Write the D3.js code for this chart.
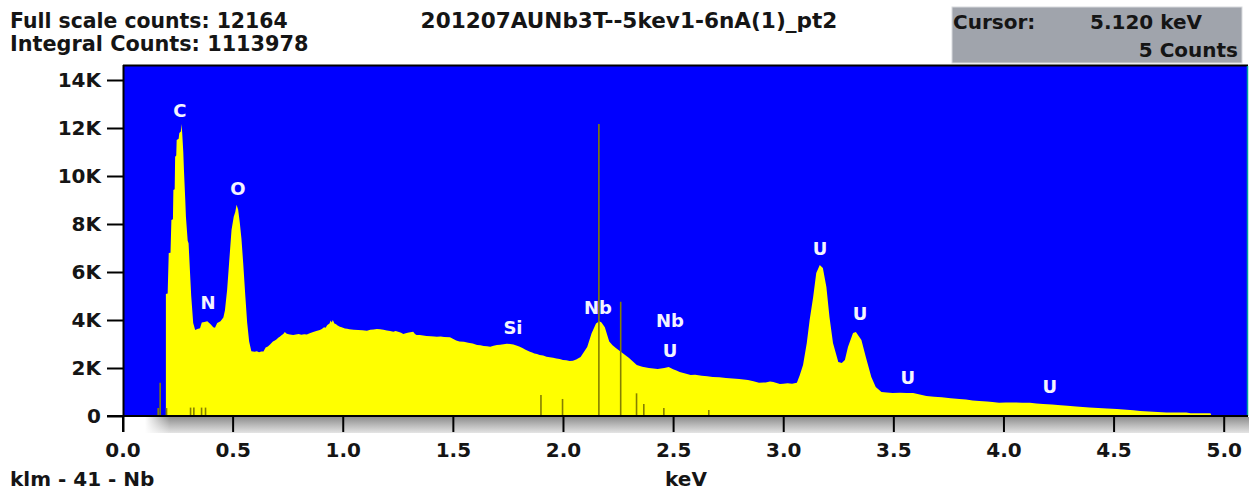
<!DOCTYPE html>
<html>
<head>
<meta charset="utf-8">
<script src="https://cdn.jsdelivr.net/npm/d3@7"></script>
<style>
  html, body { margin: 0; padding: 0; background: #fff; }
  svg { display: block; }
  text { font-family: "DejaVu Sans", Verdana, sans-serif; font-weight: bold; }
</style>
</head>
<body>
<svg id="chart" width="1249" height="491"></svg>
<script>
// spectrum: [keV, counts]
const spectrum = [
  [0.197, 5080], [0.205, 5100], [0.210, 6790], [0.218, 6800], [0.222, 8170], [0.229, 8200],
  [0.231, 9420], [0.237, 9450], [0.239, 10800], [0.244, 10850], [0.246, 11500], [0.255, 11550],
  [0.258, 11790], [0.265, 11850], [0.268, 12164], [0.271, 11800], [0.276, 11000], [0.279, 10250],
  [0.285, 9000], [0.288, 8300], [0.296, 7300], [0.300, 7200], [0.306, 6080], [0.312, 5000],
  [0.316, 4500], [0.321, 3870], [0.330, 3580], [0.340, 3620], [0.352, 3660], [0.360, 3900],
  [0.372, 3920], [0.385, 3950], [0.400, 3820], [0.412, 3700], [0.420, 3680], [0.430, 3880],
  [0.445, 3950], [0.458, 4100], [0.465, 4400], [0.475, 5250], [0.484, 6370], [0.495, 7750],
  [0.505, 8300], [0.512, 8500], [0.518, 8800], [0.525, 8600], [0.532, 8100], [0.540, 7400],
  [0.548, 6370], [0.558, 4960], [0.566, 3900], [0.575, 3100], [0.585, 2700], [0.600, 2680],
  [0.610, 2700], [0.620, 2660], [0.630, 2690], [0.640, 2690], [0.650, 2850], [0.660, 2900],
  [0.670, 2980], [0.683, 3100], [0.692, 3150], [0.700, 3200], [0.707, 3260], [0.714, 3300],
  [0.722, 3360], [0.730, 3420], [0.737, 3500], [0.744, 3440], [0.750, 3420], [0.760, 3400],
  [0.775, 3375], [0.787, 3400], [0.800, 3420], [0.812, 3390], [0.825, 3410], [0.837, 3400],
  [0.850, 3450], [0.866, 3500], [0.880, 3540], [0.896, 3580], [0.905, 3620], [0.915, 3700],
  [0.922, 3680], [0.930, 3790], [0.940, 3850], [0.945, 3980], [0.950, 3900], [0.955, 4000],
  [0.962, 3850], [0.970, 3820], [0.975, 3780], [0.987, 3720], [0.995, 3700], [1.010, 3650],
  [1.020, 3640], [1.030, 3610], [1.050, 3590], [1.070, 3580], [1.090, 3570], [1.110, 3555],
  [1.125, 3590], [1.140, 3600], [1.155, 3620], [1.170, 3610], [1.185, 3590], [1.200, 3560],
  [1.215, 3540], [1.230, 3510], [1.240, 3540], [1.255, 3500], [1.265, 3470], [1.275, 3415],
  [1.290, 3460], [1.300, 3480], [1.320, 3510], [1.328, 3420], [1.335, 3375], [1.350, 3380],
  [1.365, 3350], [1.380, 3330], [1.400, 3320], [1.415, 3310], [1.427, 3300], [1.445, 3310],
  [1.460, 3290], [1.487, 3280], [1.500, 3220], [1.515, 3150], [1.530, 3100], [1.550, 3090],
  [1.570, 3050], [1.590, 3020], [1.610, 2960], [1.625, 2950], [1.640, 2920], [1.655, 2910],
  [1.670, 2890], [1.685, 2930], [1.700, 2960], [1.715, 2970], [1.730, 2990], [1.745, 3010],
  [1.760, 3000], [1.775, 2980], [1.785, 2950], [1.795, 2920], [1.804, 2890], [1.818, 2820],
  [1.830, 2760], [1.850, 2680], [1.860, 2650], [1.870, 2600], [1.882, 2580], [1.894, 2540],
  [1.910, 2520], [1.925, 2470], [1.940, 2445], [1.955, 2430], [1.970, 2400], [1.985, 2380],
  [2.000, 2330], [2.015, 2320], [2.030, 2290], [2.045, 2300], [2.060, 2350], [2.080, 2460],
  [2.110, 2875], [2.130, 3450], [2.150, 3850], [2.165, 3950], [2.175, 3900], [2.190, 3700],
  [2.210, 3100], [2.225, 2950], [2.240, 2830], [2.270, 2625], [2.300, 2420], [2.335, 2125],
  [2.360, 2050], [2.390, 2000], [2.430, 1960], [2.460, 2000], [2.480, 2040], [2.500, 1950],
  [2.515, 1900], [2.530, 1830], [2.555, 1770], [2.580, 1710], [2.600, 1720], [2.630, 1680],
  [2.655, 1660], [2.680, 1625], [2.710, 1610], [2.740, 1580], [2.770, 1560], [2.800, 1540],
  [2.820, 1520], [2.840, 1500], [2.865, 1450], [2.890, 1390], [2.920, 1400], [2.940, 1440],
  [2.955, 1420], [2.970, 1370], [2.985, 1330], [3.000, 1340], [3.020, 1360], [3.040, 1340],
  [3.062, 1390], [3.075, 1700], [3.090, 2125], [3.107, 3040], [3.120, 4000], [3.136, 4960],
  [3.150, 5960], [3.166, 6290], [3.180, 6170], [3.196, 5375], [3.210, 4125], [3.226, 3040],
  [3.250, 2250], [3.266, 2210], [3.280, 2330], [3.294, 2875], [3.317, 3460], [3.330, 3500],
  [3.355, 3170], [3.375, 2460], [3.400, 1625], [3.420, 1210], [3.446, 1000], [3.470, 980],
  [3.497, 960], [3.530, 965], [3.560, 955], [3.590, 960], [3.620, 900], [3.650, 830],
  [3.685, 800], [3.720, 780], [3.760, 740], [3.800, 710], [3.830, 690], [3.860, 650],
  [3.890, 630], [3.925, 600], [3.950, 580], [3.980, 555], [4.010, 565], [4.050, 560],
  [4.085, 555], [4.120, 555], [4.150, 520], [4.180, 500], [4.220, 480], [4.260, 450],
  [4.290, 430], [4.330, 400], [4.360, 380], [4.390, 350], [4.430, 330], [4.470, 310],
  [4.515, 290], [4.560, 260], [4.590, 240], [4.620, 210], [4.660, 190], [4.700, 170],
  [4.740, 150], [4.790, 150], [4.830, 150], [4.850, 110], [4.900, 110], [4.940, 110],
  [4.945, 0]
];

// klm marker lines for Nb
const markerKeV = [0.162, 0.171, 0.200, 0.309, 0.324, 0.359, 0.377, 1.900, 1.998, 2.163, 2.262, 2.334, 2.367, 2.458, 2.662];
const markerCounts = [330, 1390, 330, 350, 350, 350, 350, 870, 710, 12170, 4760, 945, 500, 330, 250];

// peak labels: text, keV, height in counts
const peakNames = ["C", "O", "N", "Si", "Nb", "Nb", "U", "U", "U", "U", "U"];
const peakKeV = [0.261, 0.524, 0.388, 1.773, 2.159, 2.486, 2.486, 3.167, 3.349, 3.566, 4.211];
const peakAt = [12750, 9500, 4710, 3670, 4540, 4000, 2750, 7000, 4290, 1625, 1210];

const xTicks = [0, 0.5, 1, 1.5, 2, 2.5, 3, 3.5, 4, 4.5, 5];
const yTicks = [0, 2000, 4000, 6000, 8000, 10000, 12000, 14000];

const fullScale = 12164;
const integral = 1113978;
const title = "201207AUNb3T--5kev1-6nA(1)_pt2";
const cursorKeV = "5.120";
const cursorCounts = 5;

const svg = d3.select("#chart");
const pLeft = 124, pRight = 1248, pTop = 66, pBottom = 416;

const x = d3.scaleLinear().domain([0, 5]).range([122.5, 1223.7]);
const y = d3.scaleLinear().domain([0, 14000]).range([pBottom, 80]);

const defs = svg.append("defs");
defs.append("clipPath").attr("id", "plotclip")
  .append("rect").attr("x", pLeft).attr("y", pTop).attr("width", pRight - pLeft).attr("height", pBottom - pTop);
const band = defs.append("linearGradient").attr("id", "band").attr("x1", 0).attr("y1", 0).attr("x2", 0).attr("y2", 1);
band.append("stop").attr("offset", "0%").attr("stop-color", "#8e8e8e");
band.append("stop").attr("offset", "100%").attr("stop-color", "#e4e4e4");
const fade = defs.append("linearGradient").attr("id", "fade").attr("x1", 0).attr("y1", 0).attr("x2", 1).attr("y2", 0);
fade.append("stop").attr("offset", "0%").attr("stop-color", "#fff").attr("stop-opacity", 1);
fade.append("stop").attr("offset", "100%").attr("stop-color", "#fff").attr("stop-opacity", 0);

// grey band under the axis
svg.append("rect").attr("x", 145).attr("y", pBottom + 1).attr("width", 1249 - 145).attr("height", 16).attr("fill", "url(#band)");
svg.append("rect").attr("x", 145).attr("y", pBottom + 1).attr("width", 25).attr("height", 16).attr("fill", "url(#fade)");

// plot background
svg.append("rect").attr("x", pLeft).attr("y", pTop).attr("width", pRight - pLeft).attr("height", pBottom - pTop).attr("fill", "#0000ff");

const plot = svg.append("g").attr("clip-path", "url(#plotclip)");

plot.append("path")
  .datum(spectrum)
  .attr("fill", "#ffff00")
  .attr("d", d3.area().x(d => x(d[0])).y0(y(0)).y1(d => y(d[1])));

plot.selectAll("line.marker")
  .data(markerKeV)
  .enter().append("line")
  .attr("class", "marker")
  .attr("x1", d => x(d)).attr("x2", d => x(d))
  .attr("y1", y(0))
  .attr("y2", (d, i) => y(markerCounts[i]))
  .attr("stroke", "#857f00")
  .attr("stroke-width", 1.6);

plot.selectAll("text.peak")
  .data(peakNames)
  .enter().append("text")
  .attr("class", "peak")
  .attr("x", (d, i) => x(peakKeV[i]))
  .attr("y", (d, i) => y(peakAt[i]))
  .attr("text-anchor", "middle")
  .attr("dominant-baseline", "central")
  .attr("font-size", 18)
  .attr("fill", "#f4f4ff")
  .text(d => d);

// frame
svg.append("line").attr("x1", pLeft - 1).attr("x2", pRight).attr("y1", pTop - 0.5).attr("y2", pTop - 0.5).attr("stroke", "#000").attr("stroke-width", 2);
svg.append("line").attr("x1", pRight - 0.5).attr("x2", pRight - 0.5).attr("y1", pTop).attr("y2", pBottom).attr("stroke", "#00a0a0").attr("stroke-width", 1.5);

// axes
const yAxis = svg.append("g").attr("transform", `translate(${pLeft},0)`)
  .call(d3.axisLeft(y).tickValues(yTicks).tickSize(17).tickPadding(6)
    .tickFormat(d => d === 0 ? "0" : (d / 1000) + "K"));
const xAxis = svg.append("g").attr("transform", `translate(0,${pBottom})`)
  .call(d3.axisBottom(x).tickValues(xTicks).tickSize(16).tickPadding(11).tickFormat(d3.format(".1f")));
[yAxis, xAxis].forEach(a => {
  a.select(".domain").remove();
  a.selectAll("line").attr("stroke", "#000").attr("stroke-width", 2);
  a.selectAll("text").attr("font-size", 20).attr("fill", "#151515")
    .attr("font-family", "DejaVu Sans, sans-serif").attr("font-weight", "bold");
});
svg.append("line").attr("x1", pLeft - 0.5).attr("x2", pLeft - 0.5).attr("y1", pTop - 1).attr("y2", pBottom + 16).attr("stroke", "#000").attr("stroke-width", 2);
svg.append("line").attr("x1", 107).attr("x2", pRight).attr("y1", pBottom).attr("y2", pBottom).attr("stroke", "#000").attr("stroke-width", 2);

// header
svg.append("text").attr("x", 10).attr("y", 28).attr("font-size", 20.4).attr("fill", "#151515")
  .text("Full scale counts: " + fullScale);
svg.append("text").attr("x", 10).attr("y", 51).attr("font-size", 20.8).attr("fill", "#151515")
  .text("Integral Counts: " + integral);
svg.append("text").attr("x", 629).attr("y", 28).attr("font-size", 21.6).attr("fill", "#151515")
  .attr("text-anchor", "middle").text(title);

svg.append("rect").attr("x", 952).attr("y", 7).attr("width", 290).attr("height", 56).attr("fill", "#a0a4ac")
  .attr("stroke", "#d8dadd").attr("stroke-width", 1);
svg.append("text").attr("x", 953).attr("y", 29).attr("font-size", 20).attr("fill", "#151515").text("Cursor:");
svg.append("text").attr("x", 1202).attr("y", 29).attr("font-size", 20).attr("fill", "#151515")
  .attr("text-anchor", "end").text(cursorKeV + " keV");
svg.append("text").attr("x", 1238).attr("y", 57).attr("font-size", 20).attr("fill", "#151515")
  .attr("text-anchor", "end").text(cursorCounts + " Counts");

// footer
svg.append("text").attr("x", 10).attr("y", 486).attr("font-size", 20).attr("fill", "#151515").text("klm - 41 - Nb");
svg.append("text").attr("x", (pLeft + pRight) / 2).attr("y", 486).attr("font-size", 20).attr("fill", "#151515")
  .attr("text-anchor", "middle").text("keV");
</script>
</body>
</html>
